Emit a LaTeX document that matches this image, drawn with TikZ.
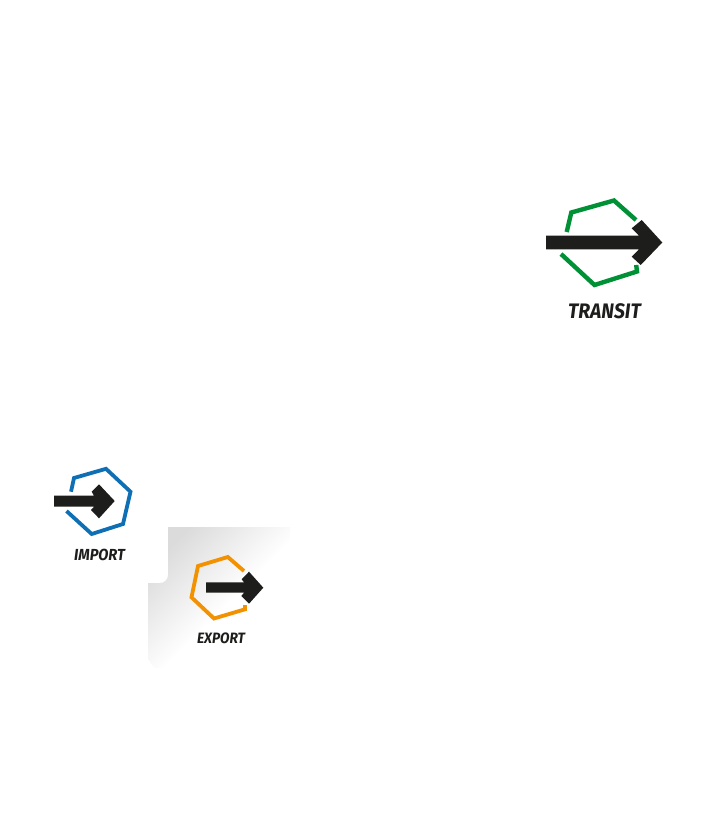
\documentclass[tikz,border=0pt]{standalone}
\usepackage{fontspec}
\setmainfont{Fira Sans}
\newfontfamily\labelfont[FakeStretch=0.92,BoldItalicFont={Fira Sans Bold Italic}]{Fira Sans}
\definecolor{arrowblack}{HTML}{1D1D1B}
\definecolor{transitgreen}{HTML}{009036}
\definecolor{importblue}{HTML}{0F6FB5}
\definecolor{exportorange}{HTML}{F39200}
\pgfdeclareverticalshading{panelfade}{100bp}{color(0bp)=(white); color(46bp)=(white); color(75bp)=(black!14); color(100bp)=(black!14)}
\tikzset{
  hexline/.style={line width=#1,line join=miter},
  bigarrow/.style={fill=arrowblack,draw=none},
  caption/.style={font=\labelfont\bfseries\itshape,text=arrowblack,inner sep=0pt}
}

\begin{document}
\begin{tikzpicture}[x=1pt,y=-1pt]
  \useasboundingbox (0,0) rectangle (710,825);
  \shade[shading=panelfade,shading angle=45] (168,527) -- (290,527) -- (290,668) -- (156,668)
     to[out=180,in=90] (148,660) -- (148,583) -- (160,583) to[out=0,in=270] (168,575) -- cycle;   % grey panel behind export

  \draw[hexline=4.4pt,transitgreen] (566.7,232) -- (571.3,212.5) -- (614,200.5) -- (636,220);   % transit hexagon, upper part
  \draw[hexline=4.4pt,transitgreen] (561,254) -- (594.5,285) -- (637,271.5) -- (636.2,265);   % lower part
  \fill[bigarrow] (546,235.7) -- (639,235.7) -- (631.7,228.3) -- (641.7,220) -- (662.3,242.5)
     -- (640.7,265) -- (631.7,256.7) -- (639,249.3) -- (546,249.3) -- cycle;   % transit arrow
  \node[caption,font=\labelfont\bfseries\itshape\fontsize{21}{24}\selectfont] (transit) at (604.5,311.5) {TRANSIT};

  \draw[hexline=3.8pt,importblue] (71,491.7) -- (74,478) -- (106,468.8) -- (130.5,491.7) -- (123,524)
     -- (91.7,534) -- (66.5,511);   % import hexagon
  \fill[bigarrow] (54,495.7) -- (94,495.7) -- (91.7,491.7) -- (99,484.3) -- (114.7,501)
     -- (99,518.3) -- (91,510) -- (94,506.7) -- (54,506.7) -- cycle;   % import arrow
  \node[caption,font=\labelfont\bfseries\itshape\fontsize{16}{19}\selectfont] (import) at (99.5,555) {IMPORT};

  \draw[hexline=3.8pt,exportorange] (244,571) -- (227.8,557) -- (198,566) -- (191.5,597.3) -- (214,618.5)
     -- (245,609.3) -- (245,605);   % export hexagon
  \fill[bigarrow] (206,582.3) -- (244,582.3) -- (241.7,579.3) -- (249,571.7) -- (263.3,587.7)
     -- (249,603.7) -- (241.3,596) -- (244,592.7) -- (206,592.7) -- cycle;   % export arrow
  \node[caption,font=\labelfont\bfseries\itshape\fontsize{15}{18}\selectfont] (export) at (221,638.5) {EXPORT};
\end{tikzpicture}
\end{document}
